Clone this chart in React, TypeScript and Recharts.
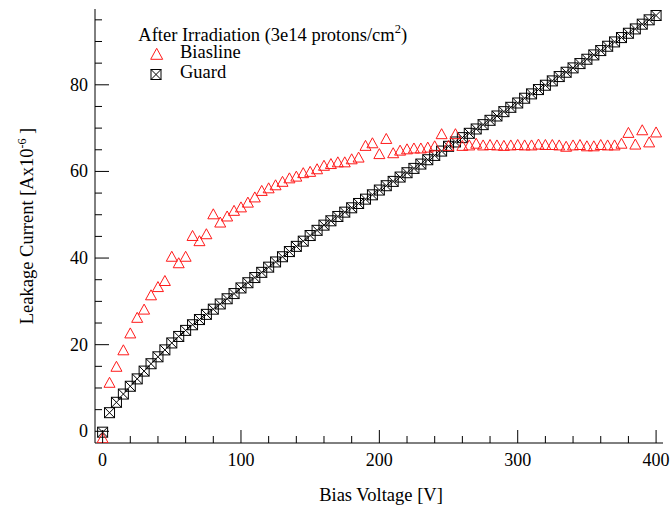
import { ScatterChart, Scatter, XAxis, YAxis } from 'recharts';

const voltages = [
  0, 5, 10, 15, 20, 25, 30, 35, 40, 45, 50, 55, 60, 65, 70, 75, 80, 85, 90, 95,
  100, 105, 110, 115, 120, 125, 130, 135, 140, 145, 150, 155, 160, 165, 170, 175, 180, 185, 190, 195,
  200, 205, 210, 215, 220, 225, 230, 235, 240, 245, 250, 255, 260, 265, 270, 275, 280, 285, 290, 295,
  300, 305, 310, 315, 320, 325, 330, 335, 340, 345, 350, 355, 360, 365, 370, 375, 380, 385, 390, 395, 400,
];

const biasline = [
  -1.6, 11.2, 14.9, 18.7, 22.6, 26.2, 28.1, 31.4, 33.3, 34.7, 40.3, 38.8, 40.3, 45.1, 43.9, 45.5, 50.1, 48.2, 49.6, 50.9,
  51.7, 52.8, 54.0, 55.5, 56.1, 56.8, 57.6, 58.4, 58.8, 59.6, 59.9, 60.5, 61.3, 61.7, 62.1, 62.1, 62.8, 63.2, 65.9, 66.5,
  64.0, 67.5, 64.2, 64.8, 65.1, 65.3, 65.3, 65.5, 65.8, 68.6, 65.9, 68.6, 65.9, 66.0, 66.4, 66.0, 66.1, 66.0, 65.9, 66.0,
  66.1, 66.0, 66.0, 66.2, 66.1, 66.1, 66.0, 65.7, 66.0, 66.1, 65.8, 65.8, 66.1, 66.0, 66.0, 66.4, 68.9, 66.2, 69.5, 66.7, 69.0,
];

const guard = [
  -0.2, 4.3, 6.7, 8.6, 10.4, 12.1, 13.9, 15.6, 17.2, 18.8, 20.4, 21.9, 23.3, 24.6, 25.8, 27.0, 28.2, 29.4, 30.6, 31.8,
  33.1, 34.3, 35.5, 36.7, 37.9, 39.1, 40.3, 41.5, 42.7, 43.9, 45.2, 46.4, 47.6, 48.6, 49.6, 50.6, 51.6, 52.6, 53.6, 54.6,
  55.7, 56.7, 57.7, 58.7, 59.7, 60.7, 61.7, 62.7, 63.7, 64.7, 65.8, 66.8, 67.8, 68.8, 69.8, 70.8, 71.8, 72.8, 73.8, 74.8,
  75.8, 76.9, 77.9, 78.9, 79.9, 80.9, 81.9, 82.9, 83.9, 84.9, 85.9, 86.9, 87.9, 88.9, 89.9, 90.9, 91.9, 92.9, 94.0, 95.0, 96.0,
];

const xTicks = [0, 20, 40, 60, 80, 100, 120, 140, 160, 180, 200, 220, 240, 260, 280, 300, 320, 340, 360, 380, 400];
const yTicks = [0, 5, 10, 15, 20, 25, 30, 35, 40, 45, 50, 55, 60, 65, 70, 75, 80, 85, 90, 95];

const biasData = voltages.map((v, i) => ({ v, i: biasline[i] }));
const guardData = voltages.map((v, i) => ({ v, i: guard[i] }));

const FONT = '"Liberation Serif", "Times New Roman", serif';

const Triangle = ({ cx, cy }: any) => (
  <polygon points={`${cx},${cy - 5.5} ${cx + 5.5},${cy + 4.5} ${cx - 5.5},${cy + 4.5}`} fill="none" stroke="#ff1a1a" strokeWidth={1} />
);

const CrossBox = ({ cx, cy }: any) => (
  <g fill="none" stroke="#000" strokeWidth={1}>
    <rect x={cx - 5} y={cy - 5} width={10} height={10} />
    <line x1={cx - 5} y1={cy - 5} x2={cx + 5} y2={cy + 5} />
    <line x1={cx - 5} y1={cy + 5} x2={cx + 5} y2={cy - 5} />
  </g>
);

const XTick = ({ x, y, payload }: any) => {
  const major = payload.value % 100 === 0;
  return (
    <g>
      <line x1={x} y1={y} x2={x} y2={y - (major ? 13 : 7)} stroke="#000" />
      {major && (
        <text x={x} y={y + 23} textAnchor="middle" fontFamily={FONT} fontSize={18} fill="#000">{payload.value}</text>
      )}
    </g>
  );
};

const YTick = ({ x, y, payload }: any) => {
  const major = payload.value % 20 === 0;
  return (
    <g>
      <line x1={x} y1={y} x2={x + (major ? 14 : 7)} y2={y} stroke="#000" />
      {major && (
        <text x={x - 7} y={y + 6} textAnchor="end" fontFamily={FONT} fontSize={18} fill="#000">{payload.value}</text>
      )}
    </g>
  );
};

export default function App() {
  return (
    <div style={{ position: 'absolute', left: 0, top: 0, width: 671, height: 511, background: '#fff' }}>
      <ScatterChart width={671} height={511} margin={{ top: 9, right: 8, bottom: 0, left: 0 }}>
        <XAxis
          dataKey="v" type="number" domain={[-5.5, 405]} allowDataOverflow ticks={xTicks} interval={0}
          height={68} tickSize={0} tickMargin={0} tickLine={false} tick={<XTick />}
          axisLine={{ stroke: '#000' }}
          label={{
            content: () => (
              <text x={381} y={501} textAnchor="middle" fontFamily={FONT} fontSize={18.5} fill="#000">Bias Voltage [V]</text>
            ),
          }}
        />
        <XAxis xAxisId="top" orientation="top" type="number" domain={[-5.5, 405]} height={0} tick={false} tickLine={false} axisLine={{ stroke: '#333' }} />
        <YAxis
          dataKey="i" type="number" domain={[-2.7, 97.5]} allowDataOverflow ticks={yTicks} interval={0}
          width={95} tickSize={0} tickMargin={0} tickLine={false} tick={<YTick />}
          axisLine={{ stroke: '#000' }}
          label={{
            content: () => (
              <text x={33} y={226} transform="rotate(-90 33 226)" textAnchor="middle" fontFamily={FONT} fontSize={18.5} fill="#000">
                Leakage Current [Ax10<tspan dy={-7} fontSize={12}>-6</tspan><tspan dy={7}> ]</tspan>
              </text>
            ),
          }}
        />
        <YAxis yAxisId="right" orientation="right" type="number" domain={[-2.7, 97.5]} width={0} tick={false} tickLine={false} axisLine={{ stroke: '#333' }} />
        <Scatter name="Guard" data={guardData} shape={<CrossBox />} isAnimationActive={false} />
        <Scatter name="Biasline" data={biasData} shape={<Triangle />} isAnimationActive={false} />
      </ScatterChart>
      <svg width={300} height={90} style={{ position: 'absolute', left: 130, top: 20 }}>
        <text x={8.3} y={20.7} fontFamily={FONT} fontSize={18.5} fill="#000">
          After Irradiation (3e14 protons/cm<tspan dy={-8} fontSize={12.5}>2</tspan><tspan dy={8}>)</tspan>
        </text>
        <polygon points="26.7,28.3 32.7,39.3 20.7,39.3" fill="none" stroke="#ff1a1a" />
        <text x={50} y={38.3} fontFamily={FONT} fontSize={18.5} fill="#000">Biasline</text>
        <g fill="none" stroke="#000">
          <rect x={21} y={49.5} width={10} height={10} />
          <line x1={21} y1={49.5} x2={31} y2={59.5} />
          <line x1={21} y1={59.5} x2={31} y2={49.5} />
        </g>
        <text x={50} y={58.3} fontFamily={FONT} fontSize={18.5} fill="#000">Guard</text>
      </svg>
    </div>
  );
}
